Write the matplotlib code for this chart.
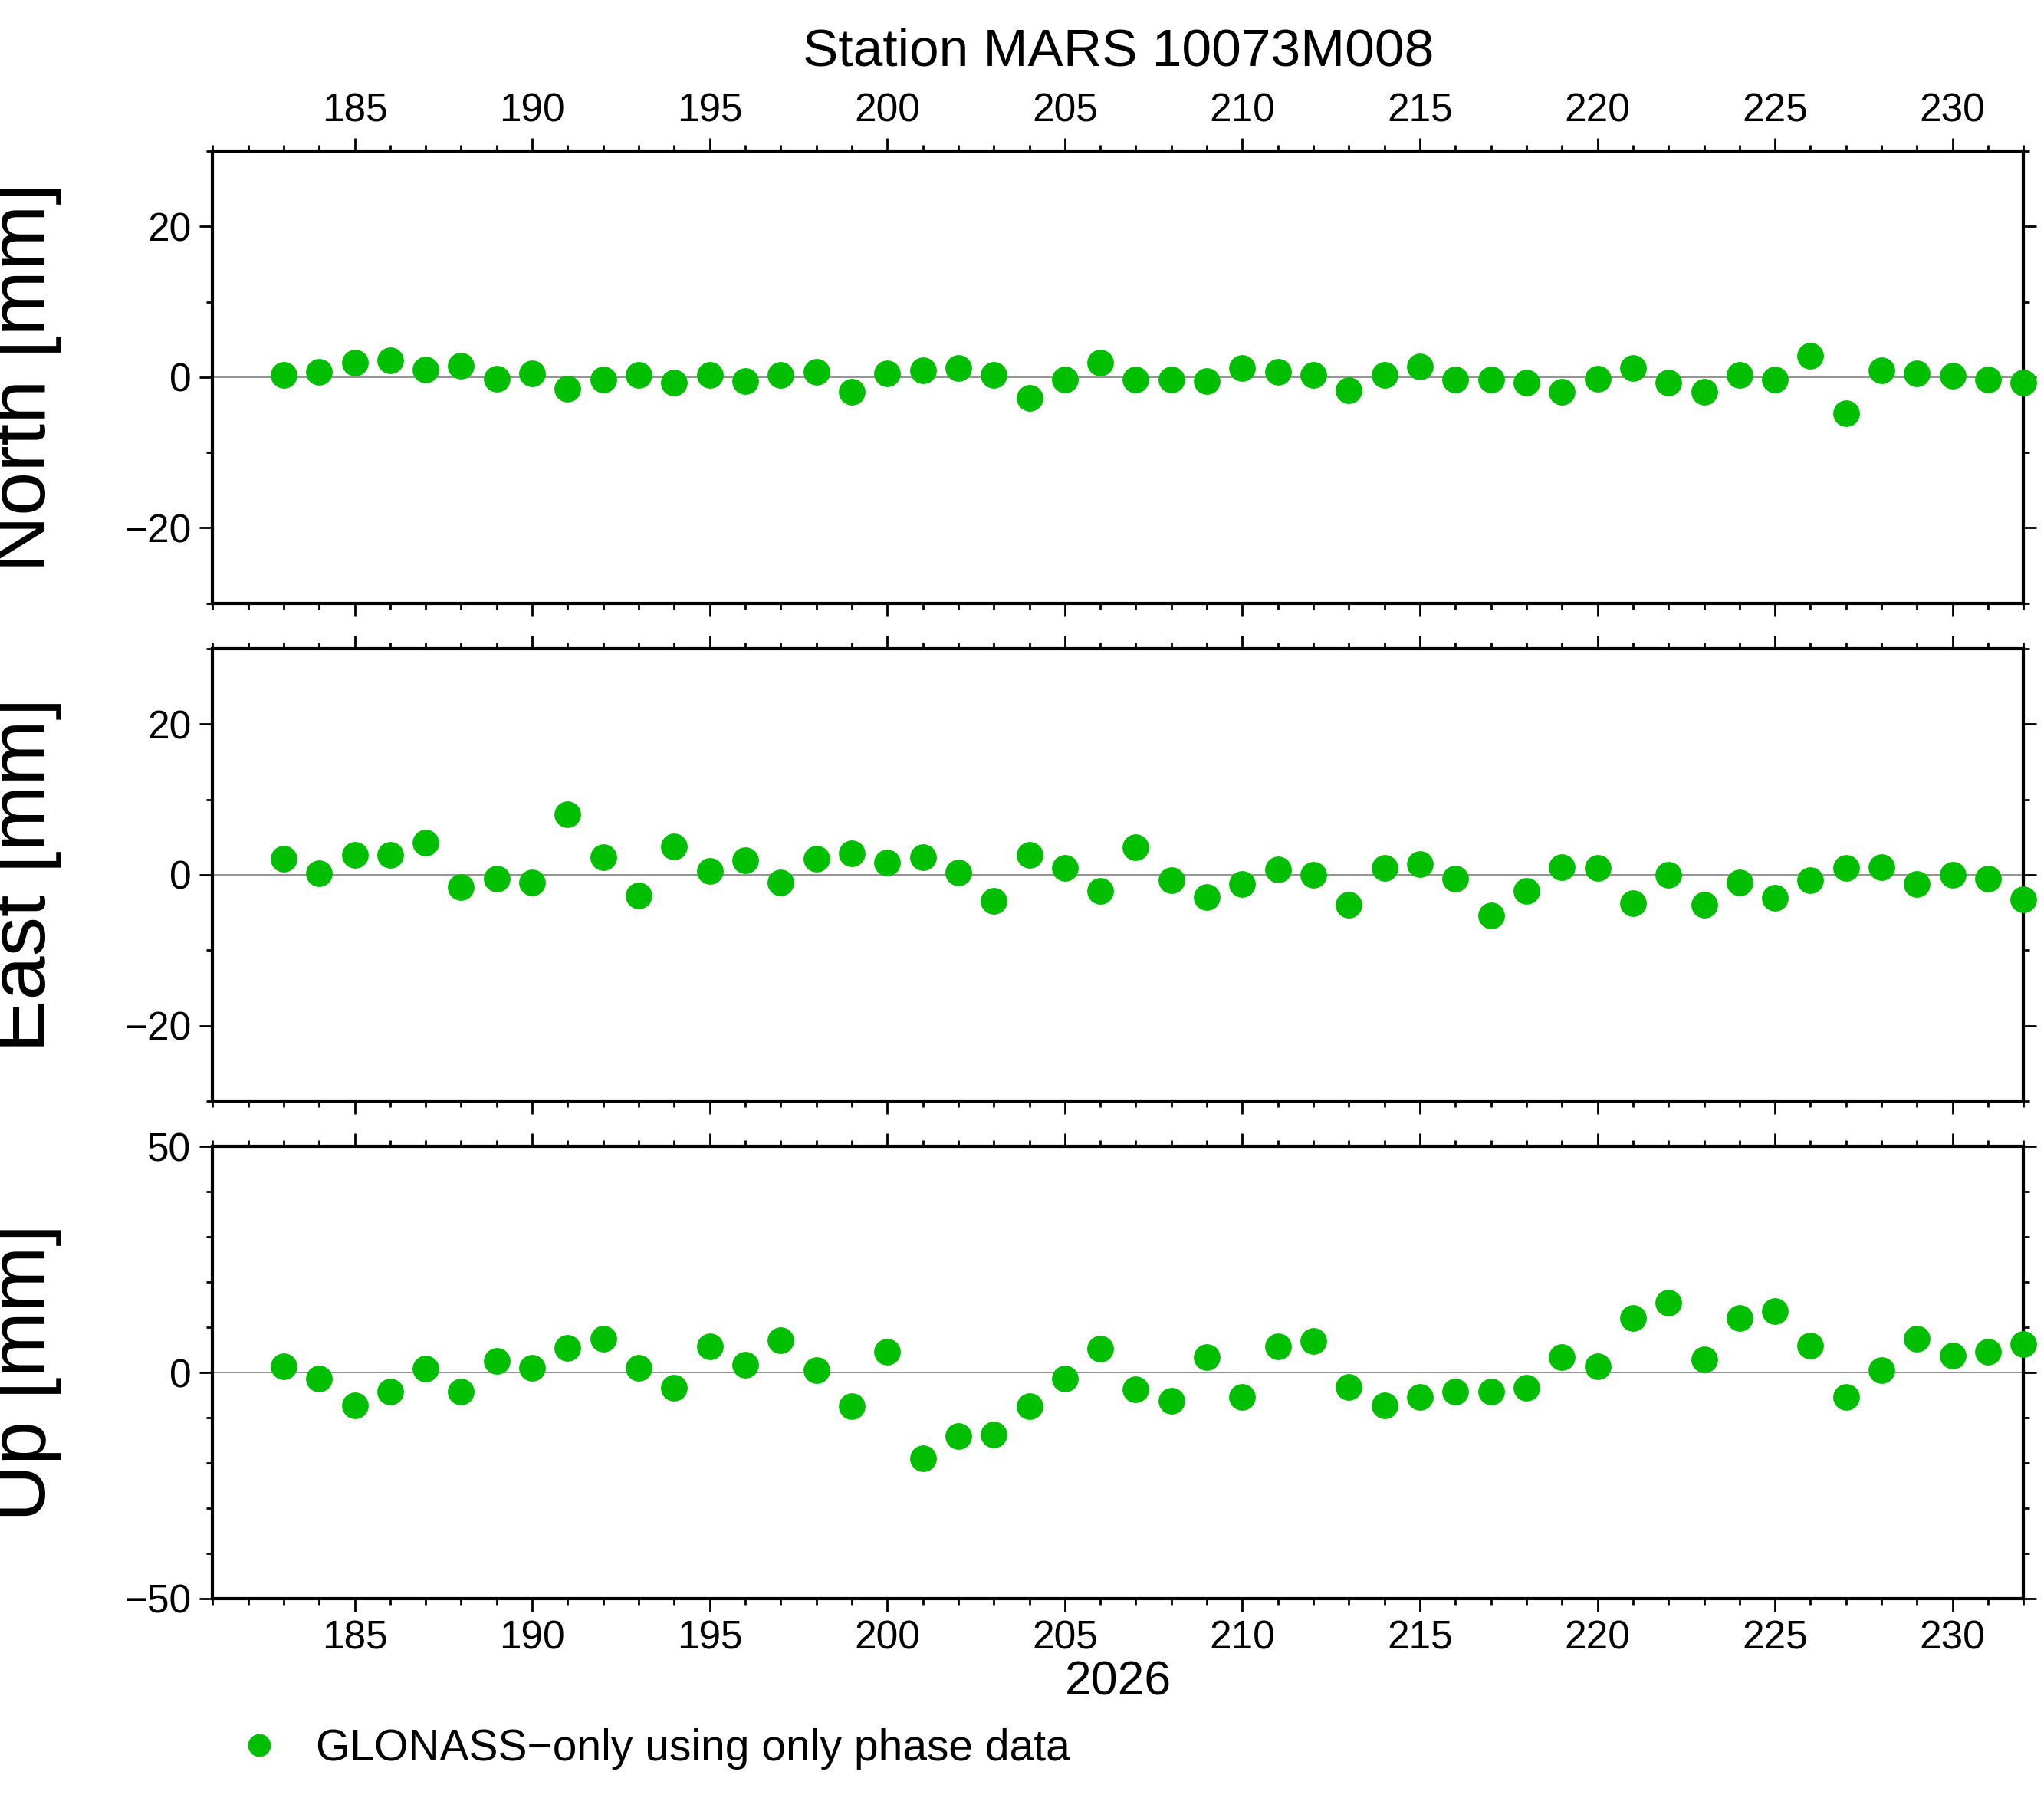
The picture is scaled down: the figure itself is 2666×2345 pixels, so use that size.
import matplotlib
matplotlib.use("Agg")
import matplotlib.pyplot as plt
from matplotlib.ticker import MultipleLocator
import numpy as np

plt.rcParams['font.family'] = ['Liberation Sans', 'DejaVu Sans']

days = list(range(183, 233))
north = [0.3,0.7,1.9,2.2,1.0,1.5,-0.2,0.5,-1.5,-0.3,0.3,-0.7,0.3,-0.5,0.3,0.7,-1.9,0.5,0.9,1.2,
         0.3,-2.8,-0.3,1.9,-0.3,-0.3,-0.5,1.2,0.7,0.3,-1.7,0.3,1.4,-0.3,-0.3,-0.7,-1.9,-0.2,1.2,-0.7,
         -1.9,0.3,-0.3,2.8,-4.8,0.9,0.5,0.2,-0.3,-0.7]
east = [2.1,0.2,2.6,2.6,4.3,-1.6,-0.5,-1.0,8.0,2.3,-2.8,3.8,0.5,1.9,-1.0,2.1,2.8,1.6,2.3,0.3,
        -3.5,2.6,0.9,-2.1,3.7,-0.7,-3.0,-1.2,0.7,0.0,-4.0,0.9,1.4,-0.5,-5.4,-2.1,1.0,0.9,-3.8,0.0,
        -4.0,-1.0,-3.1,-0.7,0.9,1.0,-1.2,0.0,-0.5,-3.3]
up = [1.4,-1.4,-7.2,-4.3,0.9,-4.3,2.6,1.1,5.5,7.5,1.1,-3.4,5.7,1.7,7.2,0.6,-7.5,4.6,-19.0,-14.1,
      -13.8,-7.5,-1.4,5.2,-3.7,-6.3,3.4,-5.5,5.7,6.9,-3.2,-7.2,-5.5,-4.3,-4.3,-3.4,3.4,1.4,12.1,15.5,
      2.9,12.1,13.5,6.0,-5.5,0.6,7.5,3.7,4.6,6.3]

labels = ["North [mm]", "East [mm]", "Up [mm]"]
series = [north, east, up]
ylims = [(-30, 30), (-30, 30), (-50, 50)]
majors = [20, 20, 50]
green = "#00bf00"

fig = plt.figure(figsize=(26.66, 23.45), dpi=100)
lefts, width = 0.104, 0.886
bottoms = [0.6645, 0.3877, 0.1109]
h = 0.2515
for i in range(3):
    ax = fig.add_axes([lefts, bottoms[i], width, h])
    ax.axhline(0, color="#808080", lw=1.2, zorder=1)
    ax.plot(days, series[i], 'o', color=green, ms=24, clip_on=False, zorder=3,
            label="GLONASS\u2212only using only phase data")
    ax.set_xlim(181, 232)
    ax.set_ylim(*ylims[i])
    ax.xaxis.set_major_locator(MultipleLocator(5))
    ax.xaxis.set_minor_locator(MultipleLocator(1))
    ax.yaxis.set_major_locator(MultipleLocator(majors[i]))
    ax.yaxis.set_minor_locator(MultipleLocator(10))
    for s in ax.spines.values():
        s.set_linewidth(3)
    ax.tick_params(which='both', direction='out', top=True, right=True, labelsize=37,
                   labeltop=(i == 0), labelbottom=(i == 2), width=2, pad=8)
    ax.tick_params(which='major', length=12)
    ax.tick_params(which='minor', length=6)
    ax.set_ylabel(labels[i], fontsize=74)
    if i == 0:
        ax.set_title("Station MARS 10073M008", fontsize=50, pad=80)
    if i == 2:
        ax.set_xlabel("2026", fontsize=45, labelpad=2)
        ax.legend(loc='upper left', bbox_to_anchor=(-0.02, -0.2), frameon=False,
                  fontsize=41, handletextpad=0.3, markerscale=0.85)
    ax.yaxis.set_label_coords(-0.083, 0.5)

fig.savefig("out.png", dpi=100)
